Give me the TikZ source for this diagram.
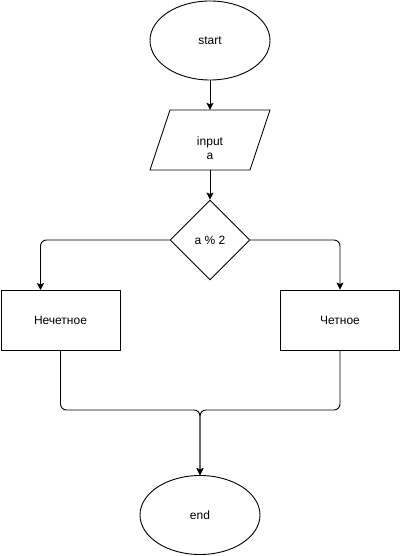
\documentclass[tikz,border=0pt]{standalone}
\usepackage{fontspec}
\setmainfont{Liberation Sans}
\usetikzlibrary{shapes.geometric,arrows.meta}
\begin{document}
\begin{tikzpicture}[x=1pt,y=-1pt,
  every node/.style={font=\fontsize{12}{14}\selectfont},
  term/.style={draw,ellipse,minimum width=120pt,minimum height=79pt,inner sep=0pt,line width=0.9pt},
  procbox/.style={draw,rectangle,minimum width=119pt,minimum height=60pt,inner sep=0pt,line width=0.9pt},
  decbox/.style={draw,diamond,minimum width=80pt,minimum height=80pt,inner sep=0pt,line width=0.9pt},
  iobox/.style={rectangle,minimum width=120pt,minimum height=60pt,inner sep=0pt},
  conn/.style={line width=0.9pt,rounded corners=6pt,-{Stealth[length=7pt,width=7pt,inset=1.5pt]}}]
\useasboundingbox (0,0) rectangle (401,556);
\node[term] (start) at (210,40.5) {start};
\node[iobox] (inp) at (210,140) {};
\draw[line width=0.9pt] (170,110) -- (270,110) -- (250,170) -- (150,170) -- cycle;
\node[align=center] (inptext) at (210,148) {input\\a};
\node[decbox] (dec) at (210,240) {a \% 2};
\node[procbox] (odd) at (60.5,320) {Нечетное};
\node[procbox] (even) at (340,320) {Четное};
\node[term] (end) at (200,515) {end};
\coordinate (m) at (200,410);
\coordinate (oddin) at (40.5,290);
\draw[conn] (start.south) -- (inp.north);
\draw[conn] (inp.south) -- (dec.north);
\draw[conn] (dec.west) -| (oddin);
\draw[conn] (dec.east) -| (even.north);
\draw[conn] (odd.south) |- (m) -- (end.north);
\draw[conn] (even.south) |- (m) -- (end.north);
\end{tikzpicture}
\end{document}
